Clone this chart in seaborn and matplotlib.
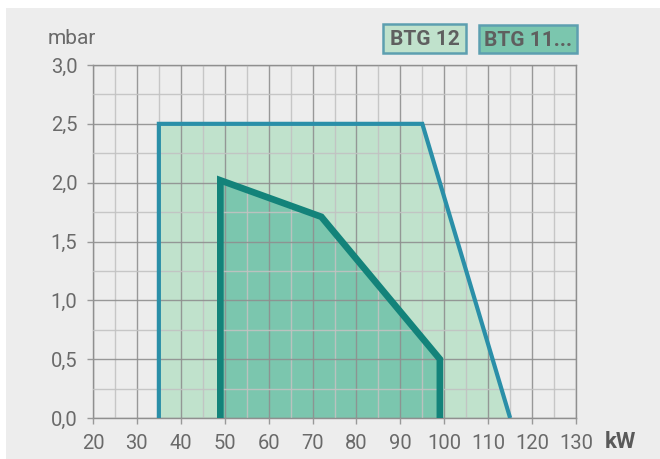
import matplotlib
matplotlib.use("Agg")
import matplotlib.pyplot as plt
import seaborn as sns
from matplotlib.patches import Rectangle

# Operating ranges (kW, mbar)
btg12_kw = [35, 35, 95, 115]
btg12_mbar = [0.0, 2.5, 2.5, 0.0]

btg11_kw = [49, 49, 72, 99, 99]
btg11_mbar = [0.0, 2.02, 1.71, 0.5, 0.0]

legend_labels = ["BTG 12", "BTG 11..."]

x_ticks = list(range(20, 131, 10))
y_ticks = [0.0, 0.5, 1.0, 1.5, 2.0, 2.5, 3.0]
y_tick_labels = [f"{v:.1f}".replace(".", ",") for v in y_ticks]

bg = "#ededed"
fill12, edge12 = "#c0e2cc", "#2a8fa8"
fill11, edge11 = "#7bc6ae", "#13837a"
text_col = "#6a6a6a"

sns.set_theme(style="white")
plt.rcParams["font.family"] = ["Roboto", "DejaVu Sans"]

fig = plt.figure(figsize=(6.6, 4.59), dpi=100, facecolor="white")
fig.patches.append(Rectangle((6 / 660, 0), 1, 451 / 459, transform=fig.transFigure,
                             facecolor=bg, edgecolor="none", zorder=-10))
ax = fig.add_axes([93 / 660, 41 / 459, 483 / 660, 353 / 459])
ax.set_facecolor(bg)

# filled areas
ax.fill(btg12_kw, btg12_mbar, color=fill12, zorder=1, lw=0)
ax.fill(btg11_kw, btg11_mbar, color=fill11, zorder=1.1, lw=0)

# grid
ax.set_xticks(range(25, 130, 10), minor=True)
ax.set_yticks([0.25, 0.75, 1.25, 1.75, 2.25, 2.75], minor=True)
ax.grid(which="major", color="#8f8f8f", lw=1.0, alpha=0.9, zorder=2)
ax.grid(which="minor", color="#c2c2c2", lw=1.0, alpha=0.9, zorder=2)
ax.set_axisbelow(False)

# outlines
sns.lineplot(x=btg12_kw, y=btg12_mbar, sort=False, estimator=None, ax=ax,
             color=edge12, lw=3.0, zorder=3)
sns.lineplot(x=btg11_kw, y=btg11_mbar, sort=False, estimator=None, ax=ax,
             color=edge11, lw=4.8, zorder=3.1)
for ln in ax.lines:
    ln.set_solid_joinstyle("miter")
    ln.set_solid_capstyle("butt")

ax.set_xlim(20, 130)
ax.set_ylim(0, 3)
ax.set_xticks(x_ticks)
ax.set_yticks(y_ticks)
ax.set_yticklabels(y_tick_labels)
ax.tick_params(axis="both", which="major", length=4.3, width=1, color="#999999",
               labelsize=14.5, labelcolor=text_col, direction="out")
ax.tick_params(axis="x", pad=7)
ax.tick_params(axis="y", pad=7)
ax.tick_params(which="minor", length=0)
ax.tick_params(bottom=True, left=True)
for s in ax.spines.values():
    s.set_color("#8f8f8f")
    s.set_linewidth(1.0)
    s.set_zorder(2)

fig.text(48 / 660, 1 - 44 / 459, "mbar", fontsize=15, color=text_col,
         ha="left", va="baseline")
fig.text(605 / 660, 1 - 448 / 459, "kW", fontsize=16, fontweight="bold", color="#5a5a5a",
         ha="left", va="baseline")

# legend boxes
boxes = [(383, 24, 83, 29, fill12), (479, 25, 98, 28, fill11)]
for (x0, y0, w, h, fc), lab in zip(boxes, legend_labels):
    fig.patches.append(Rectangle((x0 / 660, 1 - (y0 + h) / 459), w / 660, h / 459,
                                 transform=fig.transFigure, facecolor=fc,
                                 edgecolor="#5d9fb0", lw=1.8, zorder=5))
    fig.text((x0 + w / 2) / 660, 1 - (y0 + h / 2 + 1) / 459, lab, fontsize=15,
             fontweight="bold", color="#5f5f5f", ha="center", va="center", zorder=6)

fig.savefig("out.png", dpi=100, facecolor="white")
